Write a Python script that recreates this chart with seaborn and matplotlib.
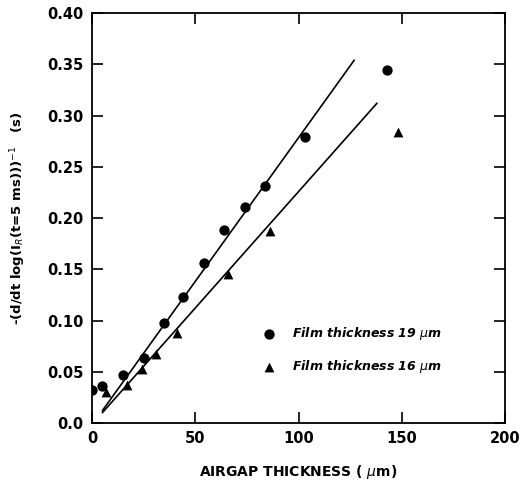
import matplotlib
matplotlib.use("Agg")
import matplotlib.pyplot as plt
import seaborn as sns
import pandas as pd

# Data
x19 = [0, 5, 15, 25, 35, 44, 54, 64, 74, 84, 103, 143]
y19 = [0.032, 0.036, 0.047, 0.063, 0.098, 0.123, 0.156, 0.188, 0.211, 0.231, 0.279, 0.344]
x16 = [7, 17, 24, 31, 41, 66, 86, 148]
y16 = [0.030, 0.037, 0.053, 0.067, 0.088, 0.145, 0.187, 0.284]
fit19_x = [5, 127]
fit19_y = [0.012, 0.354]
fit16_x = [5, 138]
fit16_y = [0.010, 0.312]
label19 = "Film thickness 19 $\\mu$m"
label16 = "Film thickness 16 $\\mu$m"
xticks = [0, 50, 100, 150, 200]
yticks = [0.0, 0.05, 0.10, 0.15, 0.20, 0.25, 0.30, 0.35, 0.40]
ytick_labels = ["0.0", "0.05", "0.10", "0.15", "0.20", "0.25", "0.30", "0.35", "0.40"]

sns.set_style("ticks")
plt.rcParams['font.family'] = ['DejaVu Sans']
plt.rcParams['text.color'] = 'black'
plt.rcParams['axes.labelcolor'] = 'black'
plt.rcParams['xtick.color'] = 'black'
plt.rcParams['ytick.color'] = 'black'

fig = plt.figure(figsize=(5.21, 4.82), dpi=100)
ax = fig.add_axes([0.1766, 0.1224, 0.7927, 0.8506])

df19 = pd.DataFrame({"x": x19, "y": y19})
df16 = pd.DataFrame({"x": x16, "y": y16})
dfit19 = pd.DataFrame({"x": fit19_x, "y": fit19_y})
dfit16 = pd.DataFrame({"x": fit16_x, "y": fit16_y})

sns.lineplot(data=dfit19, x="x", y="y", ax=ax, color="black", lw=1.2, estimator=None)
sns.lineplot(data=dfit16, x="x", y="y", ax=ax, color="black", lw=1.2, estimator=None)
sns.scatterplot(data=df19, x="x", y="y", ax=ax, marker="o", s=55, color="black",
                edgecolor="black", linewidth=0, label=label19, zorder=3)
sns.scatterplot(data=df16, x="x", y="y", ax=ax, marker="^", s=50, color="black",
                edgecolor="black", linewidth=0, label=label16, zorder=3)

ax.set_xlim(0, 200)
ax.set_ylim(0, 0.40)
ax.set_xticks(xticks)
ax.set_yticks(yticks)
ax.set_yticklabels(ytick_labels)
ax.tick_params(direction="in", length=8, width=1.2, top=True, right=True,
               labelsize=10.5, pad=6, colors="black")
for lab in ax.get_xticklabels() + ax.get_yticklabels():
    lab.set_fontweight("bold")
for sp in ax.spines.values():
    sp.set_linewidth(1.3)
    sp.set_color("black")

ax.set_xlabel("AIRGAP THICKNESS ( $\\mu$m)", fontsize=10, fontweight="bold", labelpad=12, color="black")
ax.set_ylabel("-(d/dt log(I$_R$(t=5 ms)))$^{-1}$   (s)", fontsize=9.5, fontweight="bold", labelpad=14, color="black")

leg = ax.legend(loc="center left", bbox_to_anchor=(0.385, 0.178), frameon=False,
                handletextpad=1.4, labelspacing=1.3, prop={"size": 9, "style": "italic", "weight": "bold"},
                handlelength=1.0)
for t in leg.get_texts():
    t.set_color("black")

fig.savefig("out.png", dpi=100)
